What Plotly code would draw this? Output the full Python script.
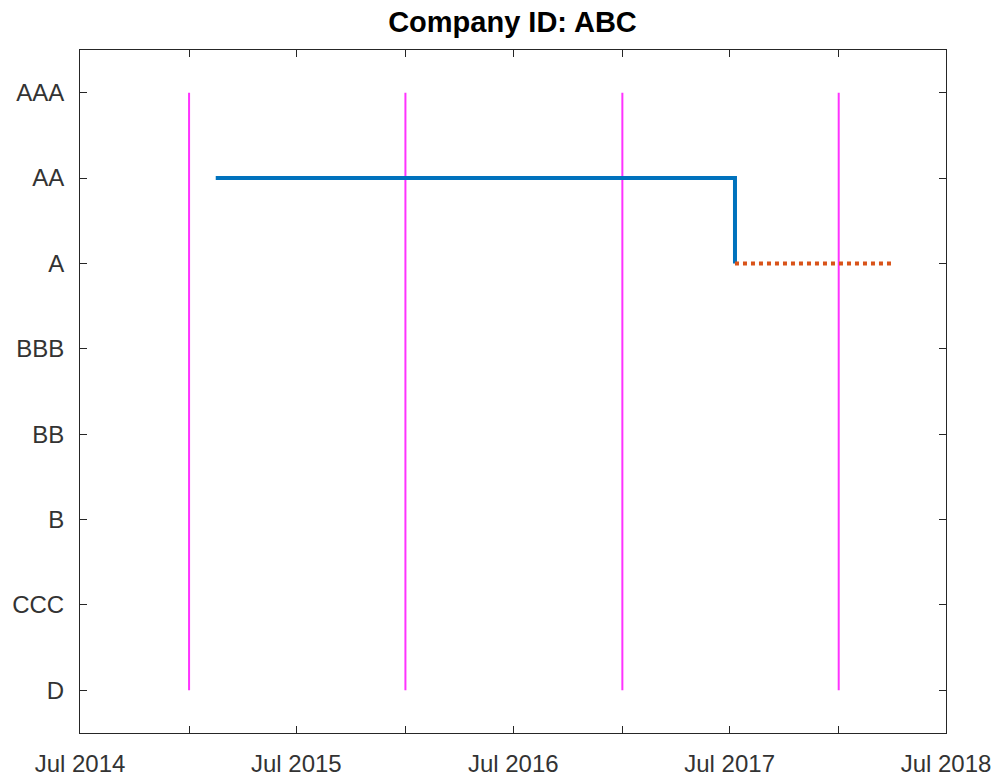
import plotly.graph_objects as go

rating_labels = ["D", "CCC", "B", "BB", "BBB", "A", "AA", "AAA"]
rating_values = [1, 2, 3, 4, 5, 6, 7, 8]

hist_dates = ["2015-02-15", "2017-07-10", "2017-07-10"]
hist_ratings = [7, 7, 6]

fcst_dates = ["2017-07-10", "2018-03-31"]
fcst_ratings = [6, 6]

year_marks = ["2015-01-01", "2016-01-01", "2017-01-01", "2018-01-01"]
major_ticks = ["2014-07-01", "2015-07-01", "2016-07-01", "2017-07-01", "2018-07-01"]
major_labels = ["Jul 2014", "Jul 2015", "Jul 2016", "Jul 2017", "Jul 2018"]

fig = go.Figure()
for d in year_marks:
    fig.add_trace(go.Scatter(x=[d, d], y=[1, 8], mode="lines",
                             line=dict(color="#FF33FF", width=2), showlegend=False, hoverinfo="skip"))
fig.add_trace(go.Scatter(x=hist_dates, y=hist_ratings, mode="lines",
                         line=dict(color="#0072BD", width=4), showlegend=False))
fig.add_trace(go.Scatter(x=fcst_dates, y=fcst_ratings, mode="lines",
                         line=dict(color="#D95319", width=4, dash="dot"), showlegend=False))

axis_common = dict(showgrid=False, zeroline=False, showline=True, linecolor="#262626",
                   linewidth=1, mirror="allticks", ticks="inside", ticklen=7, automargin=False,
                   tickcolor="#262626", tickfont=dict(family="Liberation Sans, Arial", size=24, color="#333333"))

fig.update_layout(
    width=999, height=776,
    margin=dict(l=80, r=53, t=50, b=43),
    plot_bgcolor="white", paper_bgcolor="white",
    title=dict(text="<b>Company ID: ABC</b>", x=0.513, xanchor="center", y=0.972, yanchor="middle",
               font=dict(family="Liberation Sans, Arial", size=29, color="black")),
    xaxis=dict(type="date", range=["2014-07-01", "2018-07-01"], tickmode="array",
               tickvals=major_ticks, ticktext=major_labels, ticklabelstandoff=9,
               minor=dict(tickvals=year_marks, ticks="inside", ticklen=7, tickcolor="#262626", showgrid=False),
               **axis_common),
    yaxis=dict(range=[0.5, 8.5], tickmode="array", tickvals=rating_values, ticktext=rating_labels,
               ticklabelstandoff=10, **axis_common),
)

fig.write_html("out.html", config={"displayModeBar": False},
               post_script="document.body.style.margin='0';document.body.style.overflow='hidden';")
